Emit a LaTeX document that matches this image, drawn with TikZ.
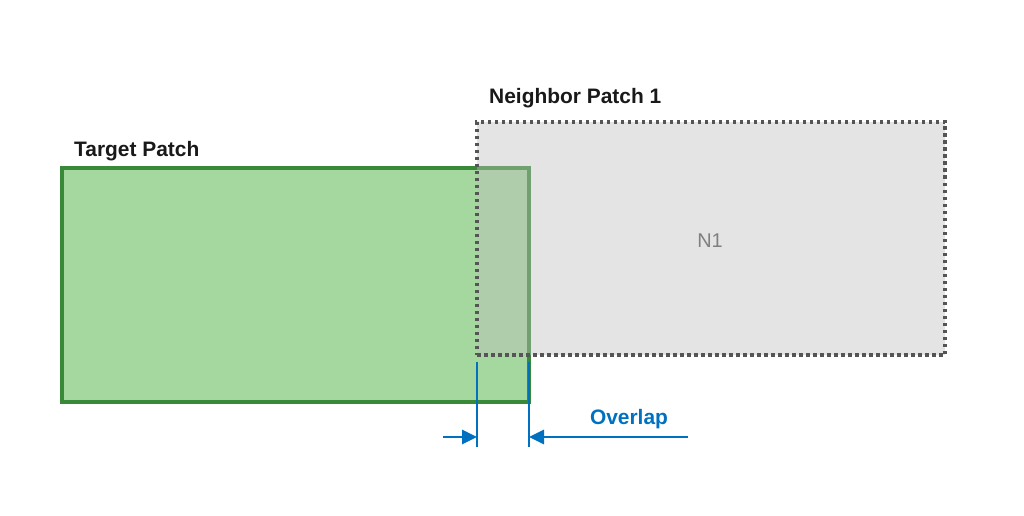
\documentclass[tikz,border=0pt]{standalone}
\usepackage{fontspec}
\setmainfont{Liberation Sans}
\usetikzlibrary{arrows.meta}
\definecolor{gfill}{RGB}{165,216,158}
\definecolor{gline}{RGB}{56,138,56}
\definecolor{nfill}{RGB}{190,190,190}
\definecolor{nline}{RGB}{85,85,85}
\definecolor{bl}{RGB}{0,112,192}
\tikzset{
  patch/.style={draw, inner sep=0pt, outer sep=0pt},
  lbl/.style={font=\bfseries\fontsize{21}{24}\selectfont, text=black!90, inner sep=0pt, anchor=west},
  dim/.style={draw=bl, line width=2.7bp},
  tip/.style={-{Triangle[length=15bp,width=14bp]}}
}
\begin{document}
\begin{tikzpicture}[x=1bp,y=-1bp]
\useasboundingbox (0,0) rectangle (1024,516);
\node[patch, fill=gfill, draw=gline, line width=3.2bp, minimum width=467bp, minimum height=234bp] (T) at (295.5,285) {};
\node[patch, fill=nfill, fill opacity=0.42, draw=nline, line width=3.5bp, dash pattern=on 3.5bp off 3.5bp, minimum width=468bp, minimum height=233bp] (N) at (711,238.5) {};
\node[lbl] (TL) at (74,151) {Target Patch};
\node[lbl] (NL) at (489,98) {Neighbor Patch 1};
\node[font=\fontsize{20}{24}\selectfont, text=black!50, inner sep=0] (N1) at (710,241) {N1};
\coordinate (a1) at (477,362);
\coordinate (a2) at (477,447);
\coordinate (b1) at (529,362);
\coordinate (b2) at (529,447);
\coordinate (la) at (443,437);
\coordinate (lb) at (477,437);
\coordinate (ra) at (688,437);
\coordinate (rb) at (529,437);
\draw[dim] (a1) -- (a2);
\draw[dim] (b1) -- (b2);
\draw[dim, tip] (la) -- (lb);
\draw[dim, tip] (ra) -- (rb);
\node[font=\bfseries\fontsize{21}{24}\selectfont, text=bl, inner sep=0] (OV) at (629,419) {Overlap};
\end{tikzpicture}
\end{document}
